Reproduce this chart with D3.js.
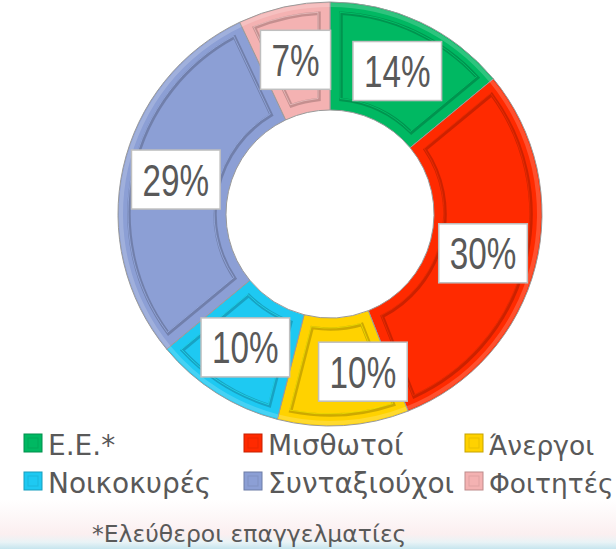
<!DOCTYPE html>
<html lang="el">
	<head>
		<meta charset="utf-8">
		<title>Κατανομή ανά επάγγελμα</title>
		<script src="https://cdn.jsdelivr.net/npm/d3@7"></script>
		<style type="text/css">
			body {
				margin: 0;
				background-color: white;
			}
			svg {
				display: block;
			}
			.legend text {
				font-family: "DejaVu Sans", sans-serif;
				fill: #595959;
			}
		</style>
	</head>
	<body>
		<script type="text/javascript">

			var categories = ["Ε.Ε.*", "Μισθωτοί", "Άνεργοι", "Νοικοκυρές", "Συνταξιούχοι", "Φοιτητές"];
			var values = [14, 30, 10, 10, 29, 7];
			var colors = ["#00b862", "#ff2a00", "#ffd200", "#1ec9f2", "#8c9fd5", "#f4b2b2"];
			var footnote = "*Ελεύθεροι επαγγελματίες";

			var width = 616, height = 549;
			var cx = 330, cy = 214;
			var outerR = 212, innerR = 104;

			var svg = d3.select("body")
						.append("svg")
						.attr("width", width)
						.attr("height", height);

			var defs = svg.append("defs");

			// faint band at the bottom of the slide
			var bg = defs.append("linearGradient")
				.attr("id", "bottomBand")
				.attr("x1", 0).attr("y1", 0).attr("x2", 0).attr("y2", 1);
			bg.append("stop").attr("offset", "0%").attr("stop-color", "#ffffff");
			bg.append("stop").attr("offset", "70%").attr("stop-color", "#fbeff0");
			bg.append("stop").attr("offset", "86%").attr("stop-color", "#e9f3f6");
			bg.append("stop").attr("offset", "100%").attr("stop-color", "#c6e5ee");

			svg.append("rect")
				.attr("x", 0).attr("y", 500)
				.attr("width", width).attr("height", 49)
				.attr("fill", "url(#bottomBand)");

			var pie = d3.pie().sort(null).value(function(d) { return d; });
			var arcs = pie(values);

			var arc = d3.arc().innerRadius(innerR).outerRadius(outerR);
			var bevel = d3.arc()
				.innerRadius(innerR + 11)
				.outerRadius(outerR - 11)
				.padRadius((innerR + outerR) / 2)
				.padAngle(22 / ((innerR + outerR) / 2));

			var chart = svg.append("g")
				.attr("transform", "translate(" + cx + "," + cy + ")");

			var slices = chart.selectAll("g.slice")
				.data(arcs)
				.enter()
				.append("g")
				.attr("class", "slice");

			slices.append("path")
				.attr("d", arc)
				.attr("fill", function(d, i) { return colors[i]; })
				.attr("stroke", "#9a9a9a")
				.attr("stroke-width", 1);

			// outer rim highlight
			slices.append("path")
				.attr("d", d3.arc().innerRadius(outerR - 5).outerRadius(outerR - 1))
				.attr("fill", "#ffffff")
				.attr("opacity", 0.18);

			// inner face of the bevel
			slices.append("path")
				.attr("d", bevel)
				.attr("fill", function(d, i) { return colors[i]; })
				.attr("stroke", function(d, i) { return d3.color(colors[i]).darker(1.1); })
				.attr("stroke-width", 3.5)
				.attr("stroke-opacity", 0.6);

			slices.append("path")
				.attr("d", bevel)
				.attr("fill", "none")
				.attr("stroke", function(d, i) { return d3.color(colors[i]).brighter(0.6); })
				.attr("stroke-width", 1)
				.attr("transform", "translate(-1,-1)")
				.attr("stroke-opacity", 0.5);

			// data labels in white boxes
			var labelNudge = [0, 0, 23, 0, 0, 0];

			var labels = chart.selectAll("g.label")
				.data(arcs)
				.enter()
				.append("g")
				.attr("class", "label")
				.attr("transform", function(d, i) {
					var c = arc.centroid(d);
					return "translate(" + (c[0] + labelNudge[i]) + "," + c[1] + ")";
				});

			labels.each(function(d) {
				var g = d3.select(this);
				var txt = d.data + "%";
				var box = g.append("rect");
				var t = g.append("text")
					.attr("text-anchor", "middle")
					.attr("y", 16)
					.attr("transform", "scale(0.74,1)")
					.style("font-family", "'Liberation Sans', Arial, sans-serif")
					.style("font-size", "45px")
					.attr("fill", "#595959")
					.text(txt);
				var w = t.node().getComputedTextLength() * 0.74 + 22;
				box.attr("x", -w / 2).attr("y", -29.5)
					.attr("width", w).attr("height", 59)
					.attr("fill", "#ffffff")
					.attr("stroke", "#bfbfbf")
					.attr("stroke-width", 1.5);
			});

			// legend
			var colX = [24, 244, 465];
			var rowY = [455, 493];

			var legend = svg.append("g").attr("class", "legend");

			var items = legend.selectAll("g.item")
				.data(categories)
				.enter()
				.append("g")
				.attr("class", "item")
				.attr("transform", function(d, i) {
					return "translate(" + colX[i % 3] + "," + rowY[Math.floor(i / 3)] + ")";
				});

			items.append("rect")
				.attr("x", 0).attr("y", -21)
				.attr("width", 18).attr("height", 18)
				.attr("fill", function(d, i) { return colors[i]; })
				.attr("stroke", function(d, i) { return d3.color(colors[i]).darker(0.7); })
				.attr("stroke-width", 1);

			items.append("rect")
				.attr("x", 4).attr("y", -17)
				.attr("width", 10).attr("height", 10)
				.attr("fill", "none")
				.attr("stroke", function(d, i) { return d3.color(colors[i]).darker(0.5); })
				.attr("stroke-opacity", 0.5)
				.attr("stroke-width", 1);

			items.append("text")
				.attr("x", 24)
				.attr("y", 0)
				.style("font-size", function(d, i) { return i % 3 === 2 ? "26.5px" : "28px"; })
				.text(function(d) { return d; });

			legend.append("text")
				.attr("x", 92)
				.attr("y", 542)
				.style("font-size", "23.5px")
				.text(footnote);

		</script>
	</body>
</html>
